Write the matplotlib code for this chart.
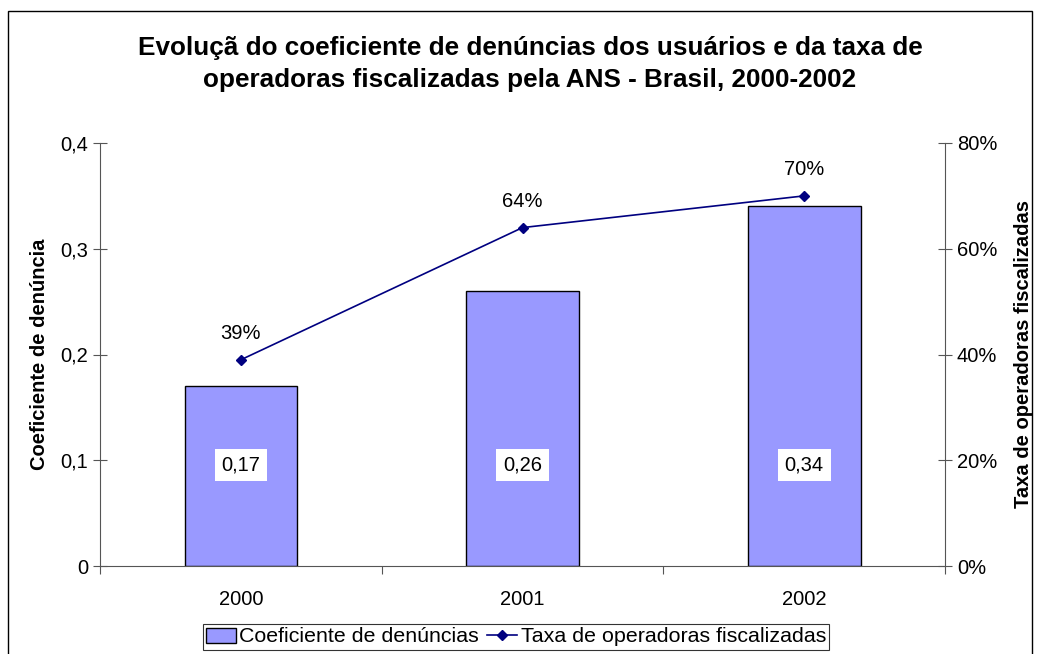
import numpy as np
import matplotlib.pyplot as plt
from matplotlib.patches import Rectangle
from matplotlib.ticker import FixedLocator, FuncFormatter

plt.rcParams['font.family'] = ['Liberation Sans', 'DejaVu Sans']

anos = ['2000', '2001', '2002']
coef = [0.17, 0.26, 0.34]
taxa = [39, 64, 70]

fig = plt.figure(figsize=(10.4, 6.54), dpi=100)
ax = fig.add_axes([100 / 1040, 1 - 566 / 654, 845 / 1040, 423 / 654])
ax2 = ax.twinx()

x = np.arange(len(anos))
bars = ax.bar(x, coef, width=0.4, color='#9999ff', edgecolor='black', linewidth=1,
              label='Coeficiente de denúncias', zorder=2)
for xi, v in zip(x, coef):
    ax.text(xi, 0.0955, f'{v:.2f}'.replace('.', ','), ha='center', va='center', fontsize=14.5,
            bbox=dict(facecolor='white', edgecolor='none', pad=5))

ax.set_xlim(-0.5, 2.5)
ax.set_ylim(0, 0.4)
ax.set_yticks([0, 0.1, 0.2, 0.3, 0.4])
ax.yaxis.set_major_formatter(FuncFormatter(lambda v, p: '0' if v == 0 else f'{v:.1f}'.replace('.', ',')))
ax.set_xticks(x)
ax.set_xticklabels(anos, fontsize=14.5)
ax.xaxis.set_minor_locator(FixedLocator([-0.5, 0.5, 1.5, 2.5]))
ax.tick_params(axis='x', which='major', length=0, pad=17)
ax.tick_params(axis='x', which='minor', length=6, direction='out', width=0.8, color='#555555')
ax.tick_params(axis='y', direction='inout', length=10, width=0.8, labelsize=14.5, color='#555555')
ax.set_ylabel('Coeficiente de denúncia', fontsize=14.5, fontweight='bold', labelpad=8)
for s in ['top', 'right']:
    ax.spines[s].set_visible(False)
for s in ['left', 'bottom']:
    ax.spines[s].set_color('#555555')
    ax.spines[s].set_linewidth(0.8)

line, = ax2.plot(x, taxa, color='#000080', marker='D', markersize=5, linewidth=1.2,
                 label='Taxa de operadoras fiscalizadas')
for xi, v in zip(x, taxa):
    ax2.annotate(f'{v}%', (xi, v), xytext=(0, 12), textcoords='offset points',
                 ha='center', va='bottom', fontsize=14.5)
ax2.set_ylim(0, 80)
ax2.set_yticks([0, 20, 40, 60, 80])
ax2.yaxis.set_major_formatter(FuncFormatter(lambda v, p: f'{v:.0f}%'))
ax2.tick_params(axis='y', direction='inout', length=10, width=0.8, labelsize=14.5, color='#555555')
ax2.set_ylabel('Taxa de operadoras fiscalizadas', fontsize=14.5, fontweight='bold', labelpad=12)
for s in ['top', 'left', 'bottom']:
    ax2.spines[s].set_visible(False)
ax2.spines['right'].set_color('#555555')
ax2.spines['right'].set_linewidth(0.8)

fig.text(530 / 1040, 1 - 64 / 654,
         'Evoluçã do coeficiente de denúncias dos usuários e da taxa de\n'
         'operadoras fiscalizadas pela ANS - Brasil, 2000-2002',
         ha='center', va='center', fontsize=18.8, fontweight='bold', linespacing=1.4)

leg = fig.legend([bars, line], ['Coeficiente de denúncias', 'Taxa de operadoras fiscalizadas'],
                 loc='center', bbox_to_anchor=(516 / 1040, 1 - 637 / 654), ncol=2,
                 fontsize=15.4, frameon=True, fancybox=False, edgecolor='black',
                 borderpad=0.15, handlelength=1.4, handletextpad=0.15, columnspacing=0.4,
                 borderaxespad=0)
leg.get_frame().set_linewidth(0.8)

fig.patches.append(Rectangle((8 / 1040, -0.05), 1024 / 1040, 1.05 - 11 / 654,
                             transform=fig.transFigure, fill=False, edgecolor='black',
                             linewidth=1))

fig.savefig('out.png', dpi=100)
